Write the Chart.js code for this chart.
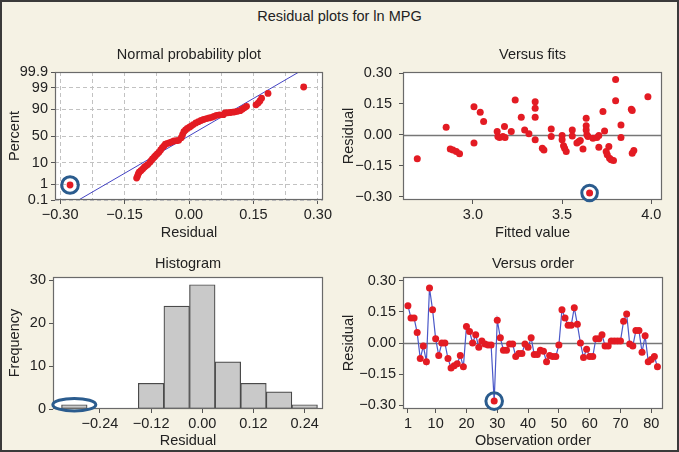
<!DOCTYPE html>
<html>
<head>
<meta charset="utf-8">
<script src="https://cdn.jsdelivr.net/npm/chart.js@4.4.0/dist/chart.umd.min.js"></script>
<style>
html, body { margin: 0; padding: 0; }
body { width: 679px; height: 452px; overflow: hidden; position: relative; }
#frame { position: absolute; left: 0; top: 0; width: 675px; height: 448px; border: 2px solid #3a3a3a; background: #f5f2e4; }
#mainTitle { position: absolute; left: 0; top: 8px; width: 679px; text-align: center; font: 14.5px "Liberation Sans", Arial, sans-serif; color: #222; }
canvas { position: absolute; }
</style>
</head>
<body>
<div id="frame"></div>
<div id="mainTitle">Residual plots for ln MPG</div>
<canvas id="chartProb" width="340" height="215" style="left:0px;top:30px"></canvas>
<canvas id="chartFits" width="339" height="215" style="left:340px;top:30px"></canvas>
<canvas id="chartHist" width="340" height="207" style="left:0px;top:245px"></canvas>
<canvas id="chartOrder" width="339" height="207" style="left:340px;top:245px"></canvas>
<script>
// normal probability plot
const probResidual = [-0.277,-0.122,-0.120,-0.118,-0.116,-0.112,-0.108,-0.104,-0.100,-0.096,
  -0.091,-0.088,-0.085,-0.081,-0.078,-0.074,-0.070,-0.066,-0.062,-0.058,
  -0.055,-0.050,-0.045,-0.040,-0.035,-0.029,-0.024,-0.018,-0.015,-0.012,
  -0.008,-0.004,0.001,0.005,0.010,0.016,0.022,0.028,0.034,0.041,
  0.047,0.053,0.058,0.064,0.071,0.080,0.084,0.090,0.096,0.102,
  0.107,0.113,0.119,0.124,0.129,0.134,0.156,0.161,0.165,0.169,
  0.184,0.267]
const probPercent = [0.9,2.1,2.6,3.4,4.0,4.7,5.5,6.6,7.5,8.4,
  10.2,11.8,13.4,15.3,17.1,19.3,21.5,25,28.8,31.6,
  34.5,36,37.4,39,40.5,41,41.7,46.8,52.5,58.3,
  61.5,64.4,66.5,68.4,71,73.6,75.5,77.3,78.7,80,
  80.8,81.6,82.8,84.1,84.5,84.8,86.7,86.9,87.2,87.5,
  87.8,88.3,88.9,90.2,91.3,92.4,93.4,94.4,95.5,96.6,
  98.0,99.1]
const probLineResidual = [-0.257, 0.256]
const probLinePercent = [0.1, 99.9]
const probTickPercent = [0.1, 1, 10, 50, 90, 99, 99.9]
const probTickLabels = ['0.1', '1', '10', '50', '90', '99', '99.9']
const probGridResidual = [-0.30, -0.225, -0.15, -0.075, 0, 0.075, 0.15, 0.225, 0.30]

// versus fits
const fitValues = [2.688,2.850,2.873,2.888,2.907,2.925,3.006,3.006,3.041,3.060,
  3.136,3.140,3.149,3.168,3.180,3.177,3.215,3.237,3.271,3.290,
  3.314,3.349,3.349,3.349,3.349,3.389,3.398,3.439,3.439,3.500,
  3.500,3.508,3.514,3.523,3.557,3.557,3.583,3.594,3.602,3.617,
  3.635,3.635,3.635,3.639,3.645,3.654,3.673,3.695,3.706,3.706,
  3.729,3.738,3.747,3.753,3.762,3.766,3.775,3.788,3.800,3.800,
  3.830,3.830,3.888,3.893,3.893,3.902,3.981]
const fitResiduals = [-0.116,0.037,-0.068,-0.073,-0.081,-0.092,0.137,-0.040,0.110,0.065,
  0.016,-0.008,-0.013,-0.008,-0.013,0.040,0.016,0.169,0.085,0.024,
  0.005,0.161,0.129,0.085,-0.024,-0.065,-0.073,0.029,-0.008,-0.003,
  -0.024,-0.053,-0.065,-0.081,0.024,-0.005,-0.040,-0.032,-0.027,-0.069,
  0.081,0.044,0.024,0.000,-0.008,-0.282,-0.016,-0.013,-0.003,-0.060,
  0.113,0.019,-0.081,-0.097,-0.056,-0.113,-0.121,-0.124,0.269,0.165,
  0.048,-0.013,0.124,0.118,-0.089,-0.076,0.185]
const fitTicks = [3.0, 3.5, 4.0]

// histogram
const histCenters = [-0.30, -0.12, -0.06, 0.00, 0.06, 0.12, 0.18, 0.24]
const histCounts = [1, 6, 24, 29, 11, 6, 4, 1]
const histXTicks = [-0.24, -0.12, 0, 0.12, 0.24]
const histYTicks = [0, 10, 20, 30]

// versus order
const orderResiduals = [0.18,0.12,0.12,0.05,-0.075,-0.015,-0.09,0.265,0.16,0.02,
  -0.06,0.00,0.00,-0.075,-0.12,-0.11,-0.10,-0.06,-0.115,0.08,
  0.055,0.00,0.04,-0.02,0.01,-0.005,-0.01,-0.01,-0.28,0.11,
  0.025,-0.035,-0.035,-0.005,-0.005,-0.065,-0.05,-0.05,-0.005,-0.02,
  0.025,-0.055,-0.055,-0.035,-0.04,-0.09,-0.06,-0.065,-0.065,-0.01,
  0.16,0.12,0.085,0.085,0.17,0.09,0.00,-0.07,-0.03,-0.065,
  -0.065,0.02,0.02,0.04,-0.015,-0.015,0.01,0.01,0.01,0.01,
  0.105,0.14,-0.005,-0.015,0.06,0.06,-0.045,0.035,-0.09,-0.08,
  -0.065,-0.115]
const orderTicks = [1, 10, 20, 30, 40, 50, 60, 70, 80]
const residualTicks = [-0.30, -0.15, 0, 0.15, 0.30]
const outlierObs = 29

Chart.defaults.font.family = '"Liberation Sans", Arial, sans-serif'
Chart.defaults.font.size = 14.5
Chart.defaults.color = '#222'

const red = '#e31b23'
const ringBlue = '#2b5c8e'

// percent -> normal score, used for the probability axis
function probit(p) {
  const a = [-39.69683028665376, 220.9460984245205, -275.9285104469687, 138.3577518672690, -30.66479806614716, 2.506628277459239]
  const b = [-54.47609879822406, 161.5858368580409, -155.6989798598866, 66.80131188771972, -13.28068155288572]
  const c = [-0.007784894002430293, -0.3223964580411365, -2.400758277161838, -2.549732539343734, 4.374664141464968, 2.938163982698783]
  const d = [0.007784695709041462, 0.3224671290700398, 2.445134137142996, 3.754408661907416]
  const tail = q => (((((c[0]*q+c[1])*q+c[2])*q+c[3])*q+c[4])*q+c[5]) / ((((d[0]*q+d[1])*q+d[2])*q+d[3])*q+1)
  if (p < 0.02425) return tail(Math.sqrt(-2 * Math.log(p)))
  if (p > 0.97575) return -tail(Math.sqrt(-2 * Math.log(1 - p)))
  const q = p - 0.5, r = q * q
  return (((((a[0]*r+a[1])*r+a[2])*r+a[3])*r+a[4])*r+a[5])*q / (((((b[0]*r+b[1])*r+b[2])*r+b[3])*r+b[4])*r+1)
}
const pz = pct => probit(pct / 100)

const fmt = v => (v < -1e-9 ? '\u2212' : '') + Math.abs(v).toFixed(2)

const panelDecor = {
  id: 'panelDecor',
  beforeDraw(chart) {
    const a = chart.chartArea, ctx = chart.ctx
    ctx.save()
    ctx.fillStyle = '#fff'
    ctx.fillRect(a.left, a.top, a.width, a.height)
    ctx.restore()
  },
  beforeDatasetsDraw(chart, args, o) {
    if (!o.zeroLine) return
    const a = chart.chartArea, ctx = chart.ctx
    const y = Math.round(chart.scales.y.getPixelForValue(0)) + 0.5
    ctx.save()
    ctx.strokeStyle = '#777'
    ctx.lineWidth = 1.3
    ctx.beginPath(); ctx.moveTo(a.left, y); ctx.lineTo(a.right, y); ctx.stroke()
    ctx.restore()
  },
  afterDatasetsDraw(chart, args, o) {
    const a = chart.chartArea, ctx = chart.ctx
    ctx.save()
    ctx.strokeStyle = '#6a6a6a'
    ctx.lineWidth = 1.2
    ctx.strokeRect(a.left + 0.5, a.top + 0.5, a.width - 1, a.height - 1)
    const cx = chart.scales.x.getPixelForValue(o.ringX)
    const cy = chart.scales.y.getPixelForValue(o.ringY)
    ctx.strokeStyle = ringBlue
    ctx.lineWidth = 3
    ctx.beginPath(); ctx.ellipse(cx, cy, o.ringRx, o.ringRy, 0, 0, Math.PI * 2); ctx.stroke()
    ctx.restore()
  },
  afterDraw(chart, args, o) {
    const a = chart.chartArea, ctx = chart.ctx
    const mx = (a.left + a.right) / 2, my = (a.top + a.bottom) / 2
    ctx.save()
    ctx.fillStyle = '#222'
    ctx.font = '14.5px "Liberation Sans", Arial, sans-serif'
    ctx.textAlign = 'center'
    ctx.textBaseline = 'middle'
    ctx.fillText(o.title, mx, a.top - o.titleGap)
    ctx.fillText(o.xTitle, mx, a.bottom + o.xGap)
    ctx.translate(a.left - o.yGap, my)
    ctx.rotate(-Math.PI / 2)
    ctx.fillText(o.yTitle, 0, 0)
    ctx.restore()
  }
}

function makeAxis(o) {
  return {
    type: 'linear',
    min: o.min,
    max: o.max,
    offset: false,
    afterBuildTicks: s => { s.ticks = o.ticks.map(v => ({value: v})) },
    afterFit: s => { if (o.width) s.width = o.width; if (o.height) s.height = o.height },
    ticks: { callback: o.label, autoSkip: false, maxRotation: 0, padding: o.pad },
    grid: o.grid || { drawOnChartArea: false, offset: false, tickLength: 4, tickColor: '#555' },
    border: o.border || { display: false }
  }
}

function panel(id, type, datasets, xAxis, yAxis, decor, pad) {
  return new Chart(document.getElementById(id), {
    type: type,
    data: { datasets: datasets },
    options: {
      responsive: false,
      animation: false,
      layout: { padding: pad },
      plugins: { legend: { display: false }, tooltip: { enabled: false }, panelDecor: decor },
      scales: { x: xAxis, y: yAxis }
    },
    plugins: [panelDecor]
  })
}

const dashedGrid = {
  color: '#c2c2c2', offset: false, tickLength: 4,
  tickColor: ctx => ctx.index % 2 ? 'rgba(0,0,0,0)' : '#555'
}

// Normal probability plot
panel('chartProb', 'scatter', [
  { data: probResidual.map((r, i) => ({x: r, y: pz(probPercent[i])})),
    pointRadius: 3.4, pointBackgroundColor: red, pointBorderWidth: 0, order: 1 },
  { data: probLineResidual.map((r, i) => ({x: r, y: pz(probLinePercent[i])})),
    showLine: true, pointRadius: 0, borderColor: '#4444c4', borderWidth: 1, order: 2 }
],
  makeAxis({ min: -0.312, max: 0.312, ticks: probGridResidual, height: 45, pad: 2,
    label: (v, i) => i % 2 ? '' : fmt(v), grid: dashedGrid, border: { display: false, dash: [4, 3] } }),
  makeAxis({ min: pz(0.1), max: pz(99.9), ticks: probTickPercent.map(pz), width: 55, pad: 3,
    label: (v, i) => probTickLabels[i],
    grid: { color: '#c2c2c2', tickLength: 4, tickColor: '#555' }, border: { display: false, dash: [4, 3] } }),
  { title: 'Normal probability plot', titleGap: 17, xTitle: 'Residual', xGap: 33, yTitle: 'Percent', yGap: 40,
    ringX: probResidual[0], ringY: pz(probPercent[0]), ringRx: 8.3, ringRy: 8.3 },
  { top: 42, right: 17, bottom: 0, left: 0 })

// Versus fits
const worstFit = fitResiduals.indexOf(Math.min(...fitResiduals))
panel('chartFits', 'scatter', [
  { data: fitValues.map((f, i) => ({x: f, y: fitResiduals[i]})),
    pointRadius: 3.5, pointBackgroundColor: red, pointBorderWidth: 0 }
],
  makeAxis({ min: 2.608, max: 4.06, ticks: fitTicks, height: 45, pad: 2, label: v => v.toFixed(1) }),
  makeAxis({ min: -0.316, max: 0.305, ticks: residualTicks, width: 63, pad: 7, label: v => fmt(v) }),
  { title: 'Versus fits', titleGap: 17, xTitle: 'Fitted value', xGap: 33, yTitle: 'Residual', yGap: 54, zeroLine: true,
    ringX: fitValues[worstFit], ringY: fitResiduals[worstFit], ringRx: 7.8, ringRy: 7.8 },
  { top: 42, right: 17, bottom: 0, left: 0 })

// Histogram
panel('chartHist', 'bar', [
  { data: histCenters.map((c, i) => ({x: c, y: histCounts[i]})),
    backgroundColor: '#c9c9c9', borderColor: '#4a4a4a', borderWidth: 1.2, borderSkipped: false,
    barPercentage: 1, categoryPercentage: 1, grouped: false }
],
  makeAxis({ min: -0.35, max: 0.283, ticks: histXTicks, height: 43, pad: 2, label: v => fmt(v) }),
  makeAxis({ min: 0, max: 30.8, ticks: histYTicks, width: 53, pad: 3, label: v => String(v) }),
  { title: 'Histogram', titleGap: 13, xTitle: 'Residual', xGap: 32, yTitle: 'Frequency', yGap: 38,
    ringX: histCenters[0], ringY: histCounts[0], ringRx: 21.5, ringRy: 6.3 },
  { top: 32, right: 17, bottom: 0, left: 0 })

// Versus order
panel('chartOrder', 'scatter', [
  { data: orderResiduals.map((r, i) => ({x: i + 1, y: r})),
    showLine: true, borderColor: '#4a58c8', borderWidth: 1.2,
    pointRadius: 3.5, pointBackgroundColor: red, pointBorderWidth: 0 }
],
  makeAxis({ min: -0.6, max: 83.8, ticks: orderTicks, height: 43, pad: 2, label: v => String(v) }),
  makeAxis({ min: -0.318, max: 0.318, ticks: residualTicks, width: 63, pad: 3, label: v => fmt(v) }),
  { title: 'Versus order', titleGap: 13, xTitle: 'Observation order', xGap: 32, yTitle: 'Residual', yGap: 54, zeroLine: true,
    ringX: outlierObs, ringY: orderResiduals[outlierObs - 1], ringRx: 8.3, ringRy: 8.3 },
  { top: 32, right: 16, bottom: 0, left: 0 })
</script>
</body>
</html>
